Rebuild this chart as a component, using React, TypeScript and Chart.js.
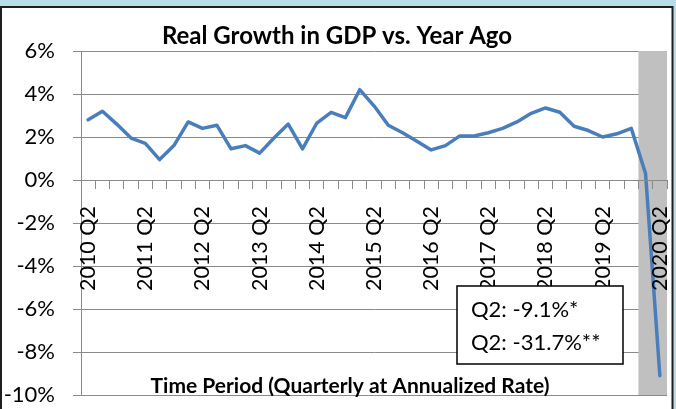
import React, { useEffect, useRef } from 'react';
import { Chart, registerables } from 'chart.js';

Chart.register(...registerables);

const quarters = [
  '2010 Q2', '2010 Q3', '2010 Q4', '2011 Q1',
  '2011 Q2', '2011 Q3', '2011 Q4', '2012 Q1',
  '2012 Q2', '2012 Q3', '2012 Q4', '2013 Q1',
  '2013 Q2', '2013 Q3', '2013 Q4', '2014 Q1',
  '2014 Q2', '2014 Q3', '2014 Q4', '2015 Q1',
  '2015 Q2', '2015 Q3', '2015 Q4', '2016 Q1',
  '2016 Q2', '2016 Q3', '2016 Q4', '2017 Q1',
  '2017 Q2', '2017 Q3', '2017 Q4', '2018 Q1',
  '2018 Q2', '2018 Q3', '2018 Q4', '2019 Q1',
  '2019 Q2', '2019 Q3', '2019 Q4', '2020 Q1',
  '2020 Q2',
];

const growth = [
  2.8, 3.2, 2.6, 1.95,
  1.7, 0.95, 1.6, 2.7,
  2.4, 2.55, 1.45, 1.6,
  1.25, 1.95, 2.6, 1.45,
  2.65, 3.15, 2.9, 4.2,
  3.45, 2.55, 2.2, 1.8,
  1.4, 1.6, 2.05, 2.05,
  2.2, 2.4, 2.7, 3.1,
  3.35, 3.15, 2.5, 2.3,
  2.0, 2.15, 2.4, 0.3,
  -9.1,
];

const recessionQuarters = ['2020 Q1', '2020 Q2'];
const yMin = -10;
const yMax = 6;
const yStep = 2;

const chartTitle = 'Real Growth in GDP vs. Year Ago';
const xAxisTitle = 'Time Period (Quarterly at Annualized Rate)';
const annotationLines = ['Q2: -9.1%*', 'Q2: -31.7%**'];

const FONT = 'Lato, "Open Sans", sans-serif';
const GRID = '#8a8a8a';

const zeroPad = (scale: any) => {
  scale.paddingLeft = 0;
  scale.paddingRight = 0;
  scale.paddingTop = 0;
  scale.paddingBottom = 0;
};

const framePlugin = {
  id: 'frame',
  beforeDraw(chart: any) {
    const { ctx, width, height } = chart;
    ctx.save();
    ctx.fillStyle = '#b7dde8';
    ctx.fillRect(0, 0, width, height);
    ctx.fillStyle = '#ffffff';
    ctx.fillRect(0, 6, 673, height);
    ctx.strokeStyle = '#1e1e1e';
    ctx.lineWidth = 2;
    ctx.beginPath();
    ctx.moveTo(1, height + 5);
    ctx.lineTo(1, 7);
    ctx.lineTo(672.5, 7);
    ctx.lineTo(672.5, height + 5);
    ctx.stroke();
    ctx.fillStyle = '#000';
    ctx.font = 'bold 24px ' + FONT;
    ctx.textAlign = 'center';
    ctx.textBaseline = 'alphabetic';
    ctx.fillText(chartTitle, 337, 44);
    ctx.restore();
  },
  beforeDatasetsDraw(chart: any) {
    const { ctx, chartArea } = chart;
    const xs = chart.scales.x;
    const first = quarters.indexOf(recessionQuarters[0]);
    const last = quarters.indexOf(recessionQuarters[recessionQuarters.length - 1]);
    const half = (xs.getPixelForValue(1) - xs.getPixelForValue(0)) / 2;
    const x0 = xs.getPixelForValue(first) - half;
    const x1 = xs.getPixelForValue(last) + half;
    ctx.save();
    ctx.fillStyle = '#c0c0c0';
    ctx.fillRect(x0, chartArea.top, x1 - x0, chartArea.bottom - chartArea.top);
    ctx.restore();
  },
  afterDraw(chart: any) {
    const { ctx } = chart;
    ctx.save();
    ctx.fillStyle = '#000';
    ctx.font = 'bold 21px ' + FONT;
    ctx.textAlign = 'center';
    ctx.textBaseline = 'alphabetic';
    ctx.fillText(xAxisTitle, 350, 393);
    // annotation box
    ctx.fillStyle = '#ffffff';
    ctx.fillRect(457, 286, 166, 78);
    ctx.strokeStyle = '#000';
    ctx.lineWidth = 1.5;
    ctx.strokeRect(457, 286, 166, 78);
    ctx.fillStyle = '#000';
    ctx.font = '22px ' + FONT;
    ctx.textAlign = 'left';
    ctx.fillText(annotationLines[0], 471, 317);
    ctx.fillText(annotationLines[1], 471, 350);
    ctx.restore();
  },
};

export default function App() {
  const canvasRef = useRef<HTMLCanvasElement | null>(null);

  useEffect(() => {
    document.body.style.margin = '0';
    const canvas = canvasRef.current;
    if (!canvas) return;
    const chart = new Chart(canvas, {
      type: 'line',
      data: {
        labels: quarters,
        datasets: [
          {
            data: growth,
            borderColor: '#4a7ebb',
            borderWidth: 3.5,
            pointRadius: 0,
            tension: 0,
            fill: false,
            borderJoinStyle: 'round',
            borderCapStyle: 'round',
          },
        ],
      },
      options: {
        responsive: false,
        animation: false,
        devicePixelRatio: 1,
        layout: { padding: { left: 0, right: 9, top: 51, bottom: 14 } },
        plugins: {
          legend: { display: false },
          title: { display: false },
          tooltip: { enabled: false },
        },
        scales: {
          x: {
            type: 'category',
            position: { y: 0 },
            offset: true,
            afterFit: zeroPad,
            grid: {
              display: true,
              offset: true,
              drawOnChartArea: false,
              drawTicks: true,
              tickLength: 8,
              color: GRID,
              lineWidth: 1,
              z: 1,
            },
            border: { display: true, color: GRID, width: 1, z: 1 },
            ticks: {
              autoSkip: false,
              minRotation: 90,
              maxRotation: 90,
              padding: 18,
              color: '#000',
              font: { family: FONT, size: 21.5 },
              z: 1,
              callback: (_v: any, i: number) => (quarters[i].endsWith('Q2') ? quarters[i] : ''),
            },
          },
          y: {
            min: yMin,
            max: yMax,
            afterFit: (scale: any) => {
              scale.width = 81;
              zeroPad(scale);
            },
            grid: {
              color: GRID,
              lineWidth: 1,
              tickLength: 8,
            },
            border: { display: true, color: GRID, width: 1 },
            ticks: {
              stepSize: yStep,
              padding: 18,
              color: '#000',
              font: { family: FONT, size: 22 },
              callback: (v: any) => v + '%',
            },
          },
        },
      },
      plugins: [framePlugin],
    });
    return () => chart.destroy();
  }, []);

  return (
    <div style={{ position: 'fixed', left: 0, top: 0, width: 676, height: 409 }}>
      <canvas ref={canvasRef} width={676} height={409} style={{ display: 'block', width: 676, height: 409 }} />
    </div>
  );
}
